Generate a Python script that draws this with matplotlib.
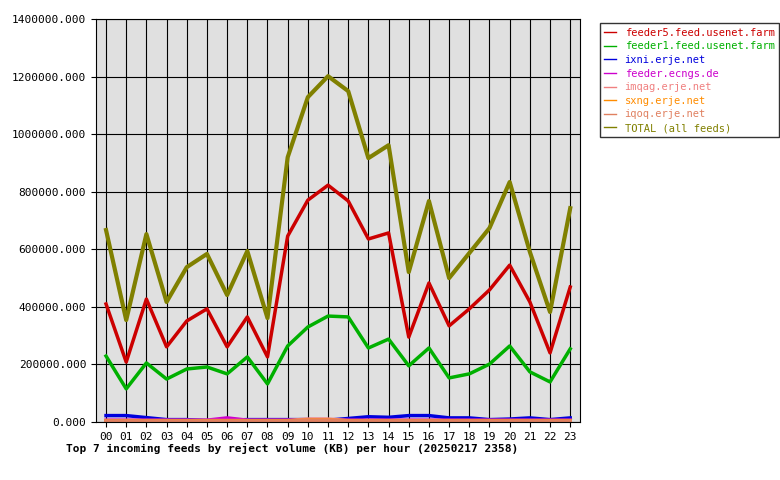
import matplotlib
matplotlib.use("Agg")
import matplotlib.pyplot as plt
from matplotlib.ticker import FuncFormatter, MultipleLocator

hours = ["%02d" % h for h in range(24)]
feeder5 = [410,208,427,261,351,393,261,365,226,646,771,823,768,636,657,295,483,334,393,459,545,417,240,469]
feeder1 = [229,115,205,149,184,191,167,226,132,264,330,368,365,257,288,195,257,153,167,201,264,174,139,254]
ixni = [22,22,15,8,8,5,6,8,8,8,8,6,12,18,16,22,22,14,14,8,10,14,8,14]
ecngs = [6,6,6,6,6,6,14,6,6,6,6,6,6,6,6,6,6,6,6,6,6,6,6,6]
imqag = [5,5,5,5,5,5,5,5,5,5,10,10,5,5,5,5,5,5,5,5,5,5,5,5]
sxng = [4,4,4,4,4,4,4,4,4,4,6,6,4,4,4,4,4,4,4,4,4,4,4,4]
iqoq = [3,3,3,3,3,3,3,3,3,3,5,5,3,3,3,3,3,3,3,3,3,3,3,3]
total = [667,354,653,417,538,584,441,594,361,920,1129,1202,1150,917,962,521,768,500,587,674,834,591,382,743]

series = [
    ("feeder5.feed.usenet.farm", feeder5, "#cc0000", 2.5),
    ("feeder1.feed.usenet.farm", feeder1, "#00b000", 2.5),
    ("ixni.erje.net", ixni, "#0000dd", 2.5),
    ("feeder.ecngs.de", ecngs, "#cc00cc", 2.5),
    ("imqag.erje.net", imqag, "#f08080", 2.5),
    ("sxng.erje.net", sxng, "#ff8c00", 2.5),
    ("iqoq.erje.net", iqoq, "#e08060", 2.5),
    ("TOTAL (all feeds)", total, "#808000", 3),
]

plt.rcParams["font.family"] = "DejaVu Sans Mono"
fig = plt.figure(figsize=(7.8, 4.8), dpi=100)
ax = fig.add_axes([0.123, 0.121, 0.621, 0.839])
ax.set_facecolor("#e0e0e0")
x = list(range(24))
handles = []
for name, vals, col, lw in series:
    h, = ax.plot(x, [v * 1000 for v in vals], color=col, lw=lw, label=name)
    handles.append(h)
ax.set_xlim(-0.5, 23.5)
ax.set_ylim(0, 1400000)
ax.set_xticks(x)
ax.set_xticklabels(hours, fontsize=8)
ax.yaxis.set_major_locator(MultipleLocator(200000))
ax.yaxis.set_major_formatter(FuncFormatter(lambda v, p: "%.3f" % v))
ax.tick_params(axis="y", labelsize=8)
ax.grid(True, color="black", lw=0.8)
ax.set_axisbelow(True)
leg = fig.legend(handles=handles, loc="upper left", bbox_to_anchor=(0.762, 0.962),
                 fontsize=7.5, frameon=True, fancybox=False, edgecolor="black",
                 handlelength=1.2, labelspacing=0.35, borderpad=0.4)
for t, (_, _, col, _) in zip(leg.get_texts(), series):
    t.set_color(col)
for l in leg.get_lines():
    l.set_linewidth(1)
fig.text(0.085, 0.058, "Top 7 incoming feeds by reject volume (KB) per hour (20250217 2358)",
         fontsize=8, fontweight="bold")
fig.savefig("out.png", dpi=100)
